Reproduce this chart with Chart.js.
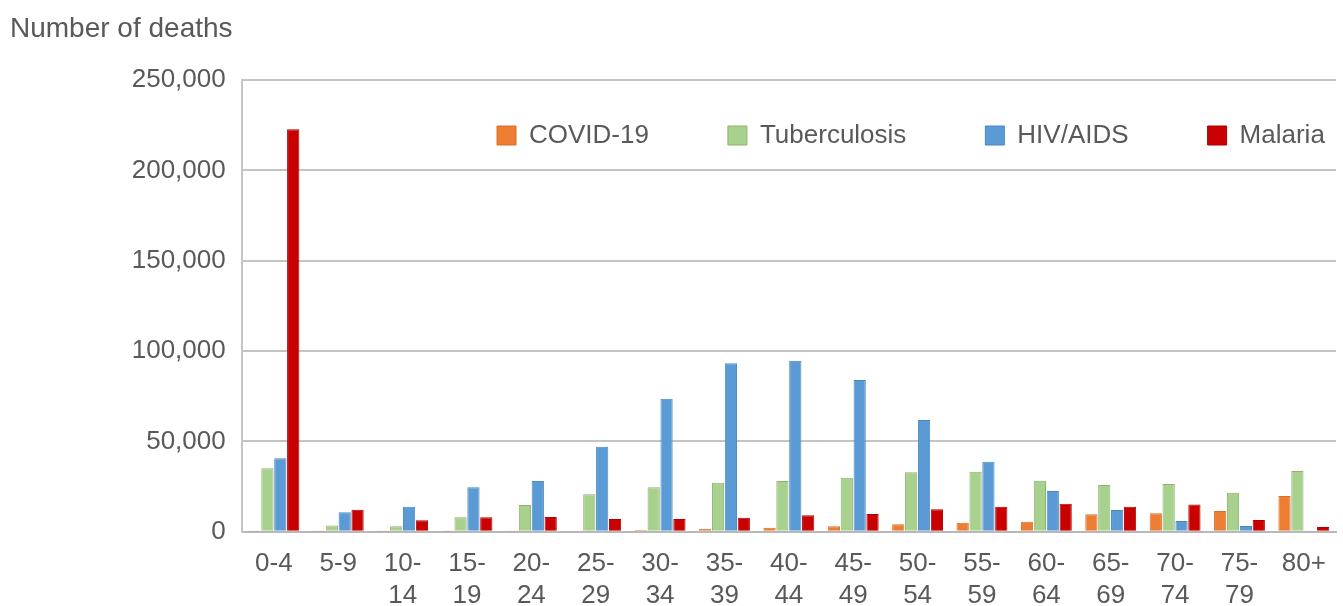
<!DOCTYPE html>
<html>
<head>
<meta charset="utf-8">
<script src="https://cdn.jsdelivr.net/npm/chart.js@4/dist/chart.umd.min.js"></script>
<style>
  html, body { margin: 0; padding: 0; background: #ffffff; }
  #wrap { width: 1343px; height: 606px; }
</style>
</head>
<body>
<div id="wrap"><canvas id="c" width="1343" height="606"></canvas></div>
<script>
// ---- data ----
const categories = [
  ['0-4'], ['5-9'], ['10-', '14'], ['15-', '19'], ['20-', '24'], ['25-', '29'],
  ['30-', '34'], ['35-', '39'], ['40-', '44'], ['45-', '49'], ['50-', '54'],
  ['55-', '59'], ['60-', '64'], ['65-', '69'], ['70-', '74'], ['75-', '79'], ['80+']
];
const seriesNames = ['COVID-19', 'Tuberculosis', 'HIV/AIDS', 'Malaria'];
const covid = [100, 50, 50, 100, 200, 500, 1000, 1600, 2200, 3000, 4100, 5000, 5500, 9600, 10200, 11500, 19700];
const tuberculosis = [35100, 3500, 3000, 8000, 14800, 20700, 24600, 27100, 28000, 29900, 32900, 33200, 28200, 25800, 26400, 21600, 33600];
const hivAids = [40600, 10700, 13800, 24600, 28000, 47000, 73600, 93200, 94600, 84000, 61800, 38700, 22500, 12000, 5900, 3100, 700];
const malaria = [222700, 12200, 6300, 8000, 8100, 7000, 7000, 7700, 9100, 9800, 12400, 13800, 15500, 13800, 15100, 6500, 2600];
const yTickValues = [0, 50000, 100000, 150000, 200000, 250000];
const yAxisTitle = 'Number of deaths';

// ---- styles ----
const fills = ['#ED7D31', '#A9D18E', '#5B9BD5', '#C80000'];
const borders = ['#D9702A', '#8DB272', '#4A88C2', '#B00000'];
const textColor = '#595959';
const gridColor = '#C4C4C4';

Chart.defaults.font.family = "'Liberation Sans', Arial, Helvetica, sans-serif";
Chart.defaults.color = textColor;

const seriesData = [covid, tuberculosis, hivAids, malaria];

// Place the legend inside the plot area without taking layout space
const legendPlacer = {
  id: 'legendPlacer',
  beforeLayout(chart) {
    const lg = chart.legend;
    if (lg && !lg._zeroFit) {
      const fit = lg.fit;
      lg.fit = function () {
        fit.call(this);
        this._fullHeight = this.height;
        this.height = 0;
      };
      lg._zeroFit = true;
    }
  },
  afterLayout(chart) {
    const lg = chart.legend;
    if (!lg) return;
    const h = lg._fullHeight || 200;
    const pad = lg.options.labels.padding;
    lg.left = 497 - pad;
    lg.right = 1700;
    lg.width = lg.right - lg.left;
    lg.top = 122.5 - pad;
    lg.height = h;
    lg.bottom = lg.top + h;
  }
};

new Chart(document.getElementById('c'), {
  type: 'bar',
  data: {
    labels: categories,
    datasets: seriesNames.map((name, i) => ({
      label: name,
      data: seriesData[i],
      backgroundColor: fills[i],
      borderColor: borders[i],
      borderWidth: 1,
      categoryPercentage: 0.8,
      barPercentage: 0.95
    }))
  },
  options: {
    responsive: false,
    devicePixelRatio: 1,
    animation: false,
    layout: { padding: { left: 10, right: 3.7, top: 0, bottom: 0 } },
    plugins: {
      title: {
        display: true,
        text: yAxisTitle,
        align: 'start',
        color: textColor,
        font: { size: 28, weight: 'normal', lineHeight: 1.2 },
        padding: { top: 12, bottom: 34.4 }
      },
      legend: {
        display: true,
        position: 'top',
        align: 'start',
        labels: {
          boxWidth: 19,
          boxHeight: 19,
          padding: 79,
          color: textColor,
          font: { size: 26 }
        }
      },
      tooltip: { enabled: false }
    },
    scales: {
      x: {
        grid: { display: false, drawTicks: false },
        border: { display: true, color: '#B8B8B8', width: 2 },
        ticks: {
          color: textColor,
          font: { size: 26 },
          padding: 17,
          maxRotation: 0,
          minRotation: 0,
          autoSkip: false
        },
        afterFit(scale) { scale.height = 74.3; }
      },
      y: {
        min: 0,
        max: 250000,
        grid: { color: gridColor, lineWidth: 2, drawTicks: false },
        border: { display: true, color: gridColor, width: 2 },
        ticks: {
          color: textColor,
          font: { size: 26 },
          padding: 16,
          callback: (v) => Number(v).toLocaleString('en-US')
        },
        afterBuildTicks(scale) { scale.ticks = yTickValues.map(v => ({ value: v })); },
        afterFit(scale) { scale.width = 231.7; }
      }
    }
  },
  plugins: [legendPlacer]
});
</script>
</body>
</html>
